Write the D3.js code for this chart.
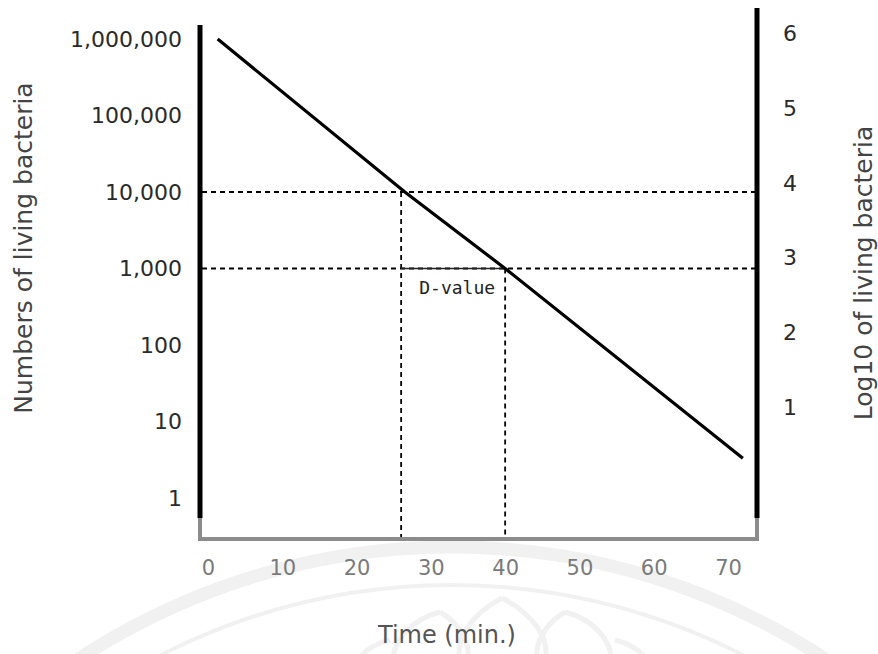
<!DOCTYPE html>
<html>
<head>
<meta charset="utf-8">
<script src="https://cdn.jsdelivr.net/npm/d3@7"></script>
<style>
  body { margin: 0; background: #fff; }
  svg { display: block; }
  .tick text { font-family: "DejaVu Sans", sans-serif; }
</style>
</head>
<body>
<svg id="chart" width="878" height="654"></svg>
<script>
// Tick values for the three axes
const countTicks = [1, 10, 100, 1000, 10000, 100000, 1000000];
const logTicks = [1, 2, 3, 4, 5, 6];
const timeTicks = [0, 10, 20, 30, 40, 50, 60, 70];

// Survivor curve: time (min) against number of living bacteria
const survivalTime = [1.3, 26.5, 40, 72];
const survivalCount = [1000000, 10000, 1000, 3.3];

// D-value: time for one log reduction (10,000 -> 1,000)
const dValueTimes = [26, 40];
const dValueCounts = [10000, 1000];

const svg = d3.select("#chart");

const x = d3.scaleLinear().domain([0, 70]).range([208, 728]);
const y = d3.scaleLog().domain([1, 1e6]).range([498, 39]);
const yLog = d3.scaleLinear().domain([0, 6]).range([482.6, 33.3]);

const leftX = 200, rightX = 757, baseY = 539;
const frameGray = "#8c8c8c";

// faint emblem in the background
const emblem = svg.append("g").attr("fill", "none").attr("stroke", "#f1f1f1");
emblem.append("circle").attr("cx", 452).attr("cy", 1225).attr("r", 678).attr("stroke-width", 13);
emblem.append("circle").attr("cx", 452).attr("cy", 1225).attr("r", 640).attr("stroke-width", 4);
const petals = [
  "M502,598 C470,615 455,640 460,660 M502,598 C535,615 550,640 545,660",
  "M440,612 C410,620 395,640 392,660 M440,612 C462,625 470,645 468,660",
  "M565,612 C595,620 610,640 612,660 M565,612 C543,625 535,645 537,660",
  "M390,640 C370,645 360,655 356,665 M615,640 C635,645 645,655 650,665"
];
emblem.selectAll("path.petal").data(petals).join("path")
  .attr("class", "petal").attr("d", d => d).attr("stroke-width", 5);

// frame: heavy black verticals, grey base
svg.append("path")
  .attr("d", `M${leftX},518 V${baseY} H${rightX} V518`)
  .attr("fill", "none").attr("stroke", frameGray).attr("stroke-width", 4);
svg.append("line").attr("x1", leftX).attr("x2", leftX).attr("y1", 25).attr("y2", 518)
  .attr("stroke", "#000").attr("stroke-width", 5);
svg.append("line").attr("x1", rightX).attr("x2", rightX).attr("y1", 8).attr("y2", 518)
  .attr("stroke", "#000").attr("stroke-width", 5);

// reference lines at 10,000 and 1,000
const dash = "5,4";
svg.selectAll("line.hguide").data(dValueCounts).join("line")
  .attr("class", "hguide")
  .attr("x1", leftX + 2).attr("x2", rightX - 2)
  .attr("y1", d => y(d)).attr("y2", d => y(d))
  .attr("stroke", "#000").attr("stroke-width", 1.8).attr("stroke-dasharray", dash);
svg.selectAll("line.vguide").data(dValueTimes).join("line")
  .attr("class", "vguide")
  .attr("x1", d => x(d)).attr("x2", d => x(d))
  .attr("y1", (d, i) => y(dValueCounts[i])).attr("y2", baseY - 2)
  .attr("stroke", "#000").attr("stroke-width", 1.8).attr("stroke-dasharray", dash);

// D-value bracket
svg.append("line")
  .attr("x1", x(dValueTimes[0])).attr("x2", x(dValueTimes[1]))
  .attr("y1", y(dValueCounts[1])).attr("y2", y(dValueCounts[1]))
  .attr("stroke", "#222").attr("stroke-width", 1.5);
svg.append("text")
  .attr("x", (x(dValueTimes[0]) + x(dValueTimes[1])) / 2 + 4)
  .attr("y", y(dValueCounts[1]) + 19)
  .attr("dy", "0.35em")
  .attr("text-anchor", "middle")
  .attr("font-family", "DejaVu Sans Mono, monospace")
  .attr("font-size", 18)
  .attr("fill", "#222")
  .text("D-value");

// survivor curve
const curve = survivalTime.map((t, i) => [t, survivalCount[i]]);
svg.append("path")
  .datum(curve)
  .attr("d", d3.line().x(d => x(d[0])).y(d => y(d[1])))
  .attr("fill", "none").attr("stroke", "#000").attr("stroke-width", 3.2);

// axes (labels only, lines drawn above)
const leftAxis = svg.append("g").attr("transform", `translate(${leftX},0)`)
  .call(d3.axisLeft(y).tickValues(countTicks).tickFormat(d3.format(",")).tickSize(0).tickPadding(18));
const rightAxis = svg.append("g").attr("transform", `translate(${rightX},0)`)
  .call(d3.axisRight(yLog).tickValues(logTicks).tickFormat(d3.format("d")).tickSize(0).tickPadding(26));
const bottomAxis = svg.append("g").attr("transform", `translate(0,${baseY})`)
  .call(d3.axisBottom(x).tickValues(timeTicks).tickSize(0).tickPadding(21));

[leftAxis, rightAxis, bottomAxis].forEach(g => g.select(".domain").remove());
leftAxis.selectAll("text").attr("font-size", 22).attr("fill", "#2a2a2a");
rightAxis.selectAll("text").attr("font-size", 22).attr("fill", "#2a2a2a");
bottomAxis.selectAll("text").attr("font-size", 21).attr("fill", "#7a7a7a");

// axis titles
svg.append("text")
  .attr("transform", "translate(23,248) rotate(-90)")
  .attr("dy", "0.35em").attr("text-anchor", "middle")
  .attr("font-family", "DejaVu Sans, sans-serif").attr("font-size", 25)
  .attr("fill", "#444")
  .text("Numbers of living bacteria");
svg.append("text")
  .attr("transform", "translate(863,273) rotate(-90)")
  .attr("dy", "0.35em").attr("text-anchor", "middle")
  .attr("font-family", "DejaVu Sans, sans-serif").attr("font-size", 25)
  .attr("fill", "#444")
  .text("Log10 of living bacteria");
svg.append("text")
  .attr("x", 447).attr("y", 635)
  .attr("dy", "0.35em").attr("text-anchor", "middle")
  .attr("font-family", "DejaVu Sans, sans-serif").attr("font-size", 24)
  .attr("fill", "#555")
  .text("Time (min.)");
</script>
</body>
</html>
